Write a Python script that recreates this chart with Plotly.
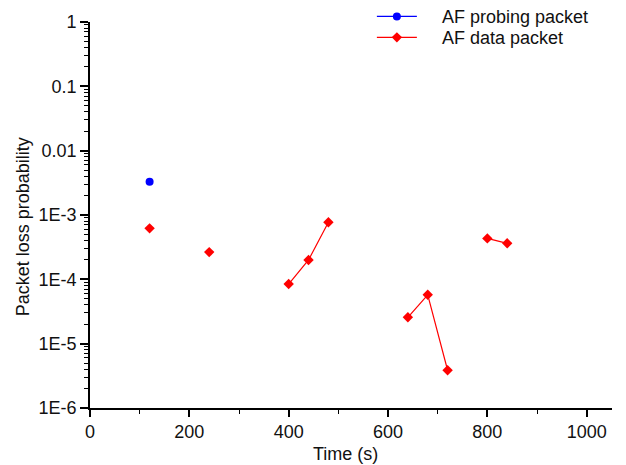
import plotly.graph_objects as go

probe_t = [120]
probe_p = [3.3e-3]

data_t = [120, None, 240, None, 400, 440, 480, None, 640, 680, 720, None, 800, 840]
data_p = [6.2e-4, None, 2.65e-4, None, 8.45e-5, 2.0e-4, 7.7e-4, None, 2.57e-5, 5.75e-5, 3.86e-6, None, 4.33e-4, 3.63e-4]

ytick_vals = [1, 0.1, 0.01, 1e-3, 1e-4, 1e-5, 1e-6]
ytick_text = ["1", "0.1", "0.01", "1E-3", "1E-4", "1E-5", "1E-6"]
xtick_vals = [0, 200, 400, 600, 800, 1000]

pad = "\u00a0" * 4
fig = go.Figure()
fig.add_trace(go.Scatter(x=probe_t, y=probe_p, mode="lines+markers", name=pad + "AF probing packet",
                         legend="legend",
                         line=dict(color="#0000ff", width=1.2),
                         marker=dict(symbol="circle", size=8, color="#0000ff")))
fig.add_trace(go.Scatter(x=data_t, y=data_p, mode="lines+markers", name=pad + "AF data packet",
                         legend="legend2", connectgaps=False,
                         line=dict(color="#ff0000", width=1.2),
                         marker=dict(symbol="diamond", size=8, color="#ff0000")))

font = dict(family="Arial, Liberation Sans, sans-serif", size=18, color="#111")
leg_common = dict(xanchor="left", yanchor="middle", bgcolor="rgba(0,0,0,0)",
                  font=dict(size=18), itemwidth=40)
fig.update_layout(
    width=618, height=457,
    margin=dict(l=82, r=14, t=14, b=57, autoexpand=False),
    paper_bgcolor="white", plot_bgcolor="white",
    font=font,
    showlegend=True,
    legend=dict(x=0.54, y=1.0137, **leg_common),
    legend2=dict(x=0.54, y=0.9594, **leg_common),
)
fig.add_annotation(text="Packet loss probability", textangle=-90, xref="paper", yref="paper",
                   x=-0.1293, y=0.4693, xanchor="center", yanchor="middle", showarrow=False,
                   font=dict(size=18))
fig.add_annotation(text="Time (s)", xref="paper", yref="paper",
                   x=0.4904, y=-0.1183, xanchor="center", yanchor="middle", showarrow=False,
                   font=dict(size=18))
fig.update_xaxes(range=[0, 1051], tickvals=xtick_vals, showline=True, linecolor="black", linewidth=1.6,
                 ticks="outside", ticklen=7, tickwidth=1.5, tickcolor="black", showgrid=False, zeroline=False,
                 minor=dict(tickvals=[100, 300, 500, 700, 900], ticks="outside", ticklen=4, tickwidth=1.2, tickcolor="black"))
fig.update_yaxes(type="log", range=[-6, 0], tickvals=ytick_vals, ticktext=ytick_text, showline=True,
                 linecolor="black", linewidth=1.6, ticks="outside", ticklen=8, tickwidth=1.5, tickcolor="black",
                 showgrid=False, zeroline=False,
                 minor=dict(ticks="outside", ticklen=4, tickwidth=1, tickcolor="black", dtick="D1"))
fig.write_html("out.html")
